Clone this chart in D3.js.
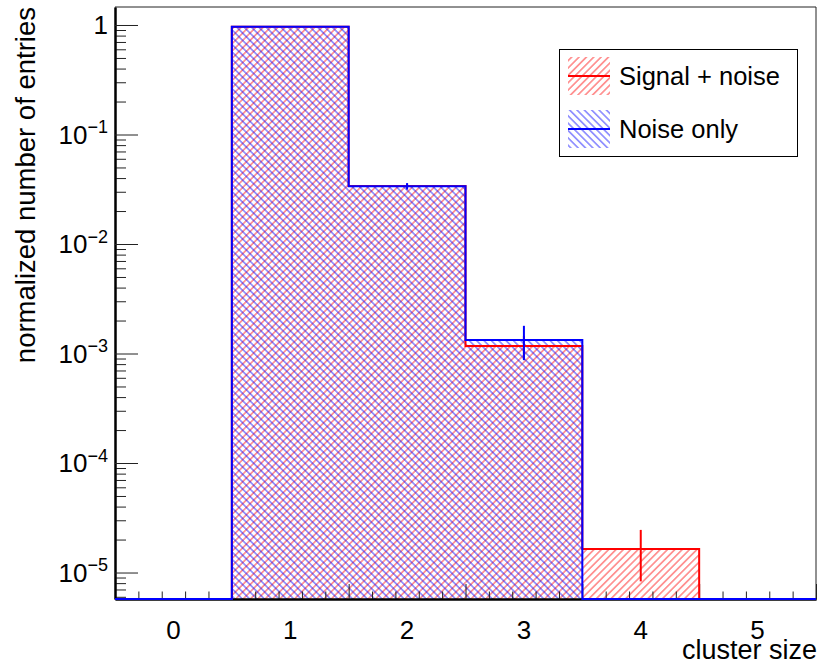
<!DOCTYPE html>
<html>
<head>
<meta charset="utf-8">
<script src="https://cdn.jsdelivr.net/npm/d3@7"></script>
<style>
  body { margin: 0; background: #fff; }
  svg { display: block; font-family: "Liberation Sans", Arial, Helvetica, sans-serif; }
</style>
</head>
<body>
<div id="chart"></div>
<script>
// bin centers of the cluster size histogram
const binCenters = [0, 1, 2, 3, 4, 5];
const xTickLabels = ["0", "1", "2", "3", "4", "5"];

// normalized entries
const signalValues = [0, 0.965, 0.0339, 0.00117, 0.0000164, 0];
const signalErrors = [0, 0.005, 0.0012, 0.00028, 0.0000081, 0];
const noiseValues = [0, 0.965, 0.0337, 0.00133, 0, 0];
const noiseErrors = [0, 0.005, 0.0023, 0.00046, 0, 0];

const yMajorTicks = [1e-5, 1e-4, 1e-3, 1e-2, 1e-1, 1];
const seriesNames = ["Signal + noise", "Noise only"];

class ClusterSizeChart {
    constructor(element) {
        this.frame = {left: 115, right: 816, top: 7, bottom: 599};

        this.svg = d3.select(element).append("svg")
            .attr("width", 825)
            .attr("height", 664);
        this.defs = this.svg.append("defs");

        this.xScale = d3.scaleLinear().domain([-0.5, 5.5]).range([this.frame.left, this.frame.right]);
        this.yScale = d3.scaleLog().domain([5.73e-6, 1.46]).range([this.frame.bottom, this.frame.top]);

        this.hatch("hatch-red", "#ff0000", 45);
        this.hatch("hatch-blue", "#0000ff", -45);
    }

    hatch(id, color, angle) {
        const p = this.defs.append("pattern")
            .attr("id", id)
            .attr("patternUnits", "userSpaceOnUse")
            .attr("width", 5.2)
            .attr("height", 5.2)
            .attr("patternTransform", `rotate(${angle})`);
        p.append("line")
            .attr("x1", 2.6).attr("x2", 2.6)
            .attr("y1", -1).attr("y2", 6.2)
            .attr("stroke", color)
            .attr("stroke-width", 1)
            .attr("stroke-opacity", 0.75);
    }

    yPos(v) {
        return v > 0 ? this.yScale(v) : this.frame.bottom;
    }

    drawFill(values, patternId) {
        const bins = binCenters.map((c, i) => ({c: c, v: values[i]})).filter(d => d.v > 0);
        this.svg.append("g")
            .selectAll("rect")
            .data(bins)
            .enter()
            .append("rect")
                .attr("x", d => this.xScale(d.c - 0.5))
                .attr("width", d => this.xScale(d.c + 0.5) - this.xScale(d.c - 0.5))
                .attr("y", d => this.yScale(d.v))
                .attr("height", d => this.frame.bottom - this.yScale(d.v))
                .attr("fill", `url(#${patternId})`);
    }

    drawOutline(values, errors, color) {
        // step outline, empty bins sit on the bottom of the frame
        const pts = binCenters.map((c, i) => [c - 0.5, values[i]]);
        pts.push([binCenters[binCenters.length - 1] + 0.5, values[values.length - 1]]);
        const line = d3.line()
            .x(d => this.xScale(d[0]))
            .y(d => this.yPos(d[1]))
            .curve(d3.curveStepAfter);
        this.svg.append("path")
            .attr("d", line(pts))
            .attr("fill", "none")
            .attr("stroke", color)
            .attr("stroke-width", 2);

        const bars = binCenters.map((c, i) => ({c: c, v: values[i], e: errors[i]})).filter(d => d.v > 0);
        this.svg.append("g")
            .selectAll("line")
            .data(bars)
            .enter()
            .append("line")
                .attr("x1", d => this.xScale(d.c))
                .attr("x2", d => this.xScale(d.c))
                .attr("y1", d => this.yPos(d.v + d.e))
                .attr("y2", d => Math.min(this.frame.bottom, this.yPos(d.v - d.e)))
                .attr("stroke", color)
                .attr("stroke-width", 2);
    }

    drawAxes() {
        const f = this.frame;
        const xMajor = d3.range(0, 7).map(i => -0.5 + i);
        const xMinor = d3.range(0, 31).map(i => -0.5 + i * 0.2).filter((d, i) => i % 5 !== 0);
        const yMinor = [];
        for (let k = -6; k <= 0; k++) {
            for (let m = 2; m <= 9; m++) {
                const v = m * Math.pow(10, k);
                if (v > this.yScale.domain()[0] && v < this.yScale.domain()[1]) yMinor.push(v);
            }
        }

        const axes = this.svg.append("g").attr("class", "axes");

        axes.append("g")
            .attr("transform", `translate(0, ${f.bottom})`)
            .call(d3.axisBottom(this.xScale).tickValues(xMinor).tickSize(-7.5).tickSizeOuter(0).tickFormat(""));
        axes.append("g")
            .attr("transform", `translate(0, ${f.bottom})`)
            .call(d3.axisBottom(this.xScale).tickValues(xMajor).tickSize(-15).tickSizeOuter(0).tickFormat(""));
        axes.append("g")
            .attr("transform", `translate(${f.left}, 0)`)
            .call(d3.axisLeft(this.yScale).tickValues(yMinor).tickSize(-11).tickSizeOuter(0).tickFormat(""));
        axes.append("g")
            .attr("transform", `translate(${f.left}, 0)`)
            .call(d3.axisLeft(this.yScale).tickValues(yMajorTicks).tickSize(-23).tickSizeOuter(0).tickFormat(""));

        axes.selectAll(".tick line").attr("stroke", "#222").attr("stroke-width", 1);
        axes.selectAll(".domain").attr("stroke", "#000").attr("stroke-width", 2);

        // top and right frame
        axes.append("path")
            .attr("d", `M${f.left},${f.top}H${f.right}V${f.bottom}`)
            .attr("fill", "none")
            .attr("stroke", "#222")
            .attr("stroke-width", 1);

        // x tick labels
        this.svg.append("g")
            .selectAll("text")
            .data(binCenters)
            .enter()
            .append("text")
                .attr("x", d => this.xScale(d))
                .attr("y", 639)
                .attr("text-anchor", "middle")
                .attr("font-size", 26)
                .text((d, i) => xTickLabels[i]);

        // y tick labels, powers of ten
        const yl = this.svg.append("g")
            .selectAll("text")
            .data(yMajorTicks)
            .enter()
            .append("text")
                .attr("x", 108)
                .attr("y", d => this.yScale(d))
                .attr("dy", "0.36em")
                .attr("text-anchor", "end")
                .attr("font-size", 26);
        yl.each(function(d) {
            const t = d3.select(this);
            const k = Math.round(Math.log10(d));
            if (k === 0) {
                t.text("1");
            } else {
                t.append("tspan").text("10");
                t.append("tspan").attr("font-size", 18).attr("dy", "-0.6em").text(`\u2212${-k}`);
            }
        });

        this.svg.append("text")
            .attr("transform", `translate(35, ${f.top}) rotate(-90)`)
            .attr("text-anchor", "end")
            .attr("font-size", 27.5)
            .text("normalized number of entries");

        this.svg.append("text")
            .attr("x", f.right + 1)
            .attr("y", 659)
            .attr("text-anchor", "end")
            .attr("font-size", 27)
            .text("cluster size");
    }

    drawLegend() {
        const g = this.svg.append("g");
        g.append("rect")
            .attr("x", 559.5).attr("y", 49.5)
            .attr("width", 238).attr("height", 107)
            .attr("fill", "#fff")
            .attr("stroke", "#000")
            .attr("stroke-width", 1);

        const entries = [
            {name: seriesNames[0], color: "#ff0000", pattern: "hatch-red", cy: 76},
            {name: seriesNames[1], color: "#0000ff", pattern: "hatch-blue", cy: 129}
        ];
        const item = g.selectAll(".entry")
            .data(entries)
            .enter()
            .append("g");
        item.append("rect")
            .attr("x", 568).attr("y", d => d.cy - 19)
            .attr("width", 42).attr("height", 38)
            .attr("fill", d => `url(#${d.pattern})`);
        item.append("line")
            .attr("x1", 568).attr("x2", 610)
            .attr("y1", d => d.cy).attr("y2", d => d.cy)
            .attr("stroke", d => d.color)
            .attr("stroke-width", 2);
        item.append("text")
            .attr("x", 619)
            .attr("y", d => d.cy)
            .attr("dy", "0.36em")
            .attr("font-size", 25.5)
            .text(d => d.name);
    }

    render() {
        this.drawFill(signalValues, "hatch-red");
        this.drawFill(noiseValues, "hatch-blue");
        this.drawAxes();
        this.drawOutline(signalValues, signalErrors, "#ff0000");
        this.drawOutline(noiseValues, noiseErrors, "#0000ff");
        this.drawLegend();
    }
}

const chart = new ClusterSizeChart(document.getElementById("chart"));
chart.render();
</script>
</body>
</html>
